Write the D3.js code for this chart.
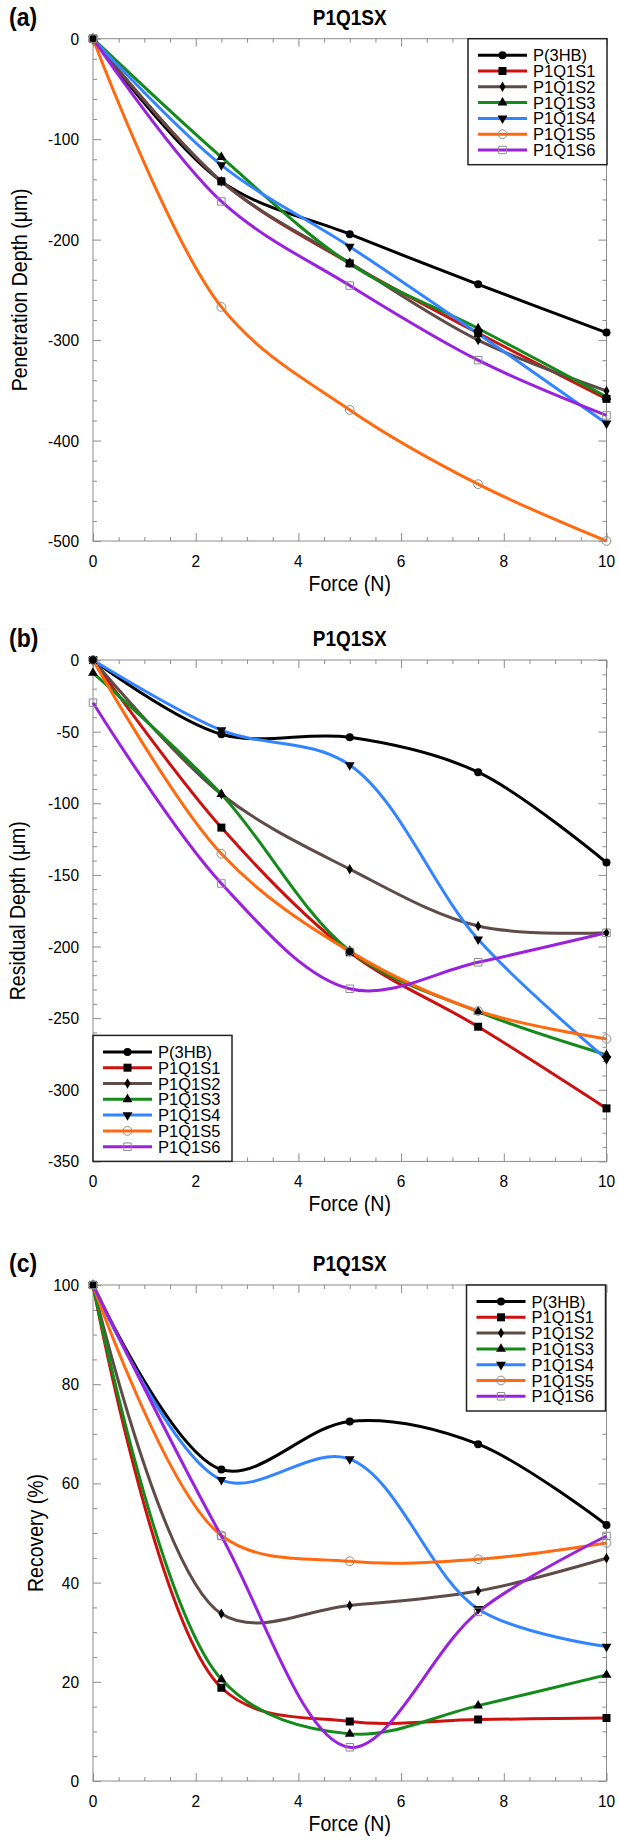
<!DOCTYPE html>
<html>
<head>
<meta charset="utf-8">
<script src="https://cdn.jsdelivr.net/npm/d3@7"></script>
<style>
  body { margin: 0; background: #fff; }
  text { font-family: "Liberation Sans", Arial, Helvetica, sans-serif; }
  .frame { fill: none; stroke: #8c8c8c; stroke-width: 1; }
  .tick line { stroke: #8c8c8c; }
  .domain { display: none; }
</style>
</head>
<body>
<div id="chart"></div>
<script>
// data
var forces = [0, 2.5, 5, 7.5, 10];
var seriesNames = ["P(3HB)", "P1Q1S1", "P1Q1S2", "P1Q1S3", "P1Q1S4", "P1Q1S5", "P1Q1S6"];
var seriesColors = ["#000000", "#cc1111", "#5f4b47", "#138a1a", "#3385ff", "#ff6a10", "#9a22dd"];
var seriesMarkers = ["circle", "square", "diamond", "triangle", "triangleDown", "openCircle", "openSquare"];

var penetrationDepth = [
  [0, -142, -194.6, -244.5, -292.5],
  [0, -142, -223.7, -293, -358.5],
  [0, -142, -223, -300, -350.6],
  [0, -118, -224, -288.5, -356.5],
  [0, -125.8, -207, -293.6, -383],
  [0, -267, -369.5, -443.4, -500],
  [0, -162, -245.7, -320, -375]
];
var residualDepth = [
  [0, -51.8, -54, -78.3, -141.4],
  [0, -117, -204, -256, -313],
  [0, -93.7, -146, -185.7, -190.4],
  [-9, -93.7, -203, -245.5, -275.6],
  [0, -49, -73.3, -195, -278.6],
  [0, -135.3, -203.4, -245, -264.5],
  [-29.8, -156, -229.5, -211, -190.4]
];
var recovery = [
  [100, 62.8, 72.5, 67.9, 51.6],
  [100, 18.8, 12, 12.4, 12.7],
  [100, 33.7, 35.4, 38.3, 44.9],
  [100, 20.5, 9.5, 15.2, 21.4],
  [100, 60.7, 64.9, 34.7, 27.1],
  [100, 49.5, 44.3, 44.7, 48],
  [100, 49.4, 6.8, 34.1, 49.4]
];

var xTicks = [0, 2, 4, 6, 8, 10];
var penetrationTicks = [-500, -400, -300, -200, -100, 0];
var residualTicks = [-350, -300, -250, -200, -150, -100, -50, 0];
var recoveryTicks = [0, 20, 40, 60, 80, 100];

var svg = d3.select("#chart").append("svg")
    .attr("width", 619)
    .attr("height", 1847);

var left = 93, right = 606.5;

// text in the original is a little taller than it is wide
function addText(g, x, y, txt, size, anchor, extra, stretch) {
  return g.append("text")
      .attr("transform", "translate(" + x + "," + y + ")" + (extra || "") +
            "scale(1," + (stretch || 1.12) + ")")
      .attr("text-anchor", anchor || "start")
      .attr("font-size", size)
      .text(txt);
}

function drawPanel(p) {
  var x = d3.scaleLinear().domain([0, 10]).range([left, right]);
  var y = d3.scaleLinear().domain(p.domain).range([p.bottom, p.top]);
  var g = svg.append("g");

  // frame
  g.append("rect").attr("class", "frame")
      .attr("x", left).attr("y", p.top)
      .attr("width", right - left).attr("height", p.bottom - p.top);

  // ticks on all four sides, pointing inward
  var xMinor = d3.range(0, 10.01, 0.5).filter(function(v) { return v % 2 !== 0; });
  var yMinor = d3.range(p.domain[0], p.domain[1] + 0.01, p.minor)
      .filter(function(v) { return p.ticks.indexOf(v) < 0; });

  [[d3.axisBottom, p.bottom], [d3.axisTop, p.top]].forEach(function(a) {
    g.append("g").attr("transform", "translate(0," + a[1] + ")")
        .call(a[0](x).tickValues(xTicks).tickSize(-8).tickFormat(""));
    g.append("g").attr("transform", "translate(0," + a[1] + ")")
        .call(a[0](x).tickValues(xMinor).tickSize(-4).tickFormat(""));
  });
  [[d3.axisLeft, left], [d3.axisRight, right]].forEach(function(a) {
    g.append("g").attr("transform", "translate(" + a[1] + ",0)")
        .call(a[0](y).tickValues(p.ticks).tickSize(-8).tickFormat(""));
    g.append("g").attr("transform", "translate(" + a[1] + ",0)")
        .call(a[0](y).tickValues(yMinor).tickSize(-4).tickFormat(""));
  });

  // tick labels
  xTicks.forEach(function(d) {
    addText(g, x(d), p.bottom + 26, d, 15.5, "middle");
  });
  p.ticks.forEach(function(d) {
    addText(g, left - 14, y(d) + 6, d, 15.5, "end");
  });

  // axis titles
  addText(g, (left + right) / 2, p.bottom + 50, "Force (N)", 19.5, "middle");
  addText(g, p.ylabelX + 7, (p.top + p.bottom) / 2, p.ylabel, 19.5, "middle", "rotate(-90)");

  // title and panel letter
  addText(g, (left + right) / 2, p.top - 14, "P1Q1SX", 19, "middle").attr("font-weight", "bold");
  addText(g, 9, p.top - 13, p.letter, 23, "start").attr("font-weight", "bold");

  // lines
  var line = d3.line()
      .x(function(d, i) { return x(forces[i]); })
      .y(function(d) { return y(d); })
      .curve(d3.curveCatmullRom.alpha(0.5));

  p.values.forEach(function(vals, s) {
    g.append("path")
        .datum(vals)
        .attr("fill", "none")
        .attr("stroke", seriesColors[s])
        .attr("stroke-width", 3)
        .attr("d", line);
  });

  // markers
  p.values.forEach(function(vals, s) {
    vals.forEach(function(v, i) {
      addMarker(g, seriesMarkers[s], x(forces[i]), y(v));
    });
  });

  // legend
  var lg = g.append("g").attr("transform", "translate(" + p.legendX + "," + p.legendY + ")");
  lg.append("rect")
      .attr("width", 139).attr("height", 126)
      .attr("fill", "#fff")
      .attr("stroke", "#222")
      .attr("stroke-width", 1.5);
  seriesNames.forEach(function(name, s) {
    var ry = 16.5 + s * 15.8;
    lg.append("line")
        .attr("x1", 10).attr("x2", 59)
        .attr("y1", ry).attr("y2", ry)
        .attr("stroke", seriesColors[s])
        .attr("stroke-width", 3);
    addMarker(lg, seriesMarkers[s], 34.5, ry);
    addText(lg, 65, ry + 6, name, 16.5, "start", "", 1);
  });
}

function addMarker(g, type, cx, cy) {
  var sym, fill = "#000", stroke = "none", rot = 0;
  if (type === "circle") sym = d3.symbol(d3.symbolCircle, 50);
  if (type === "square") sym = d3.symbol(d3.symbolSquare, 64);
  if (type === "diamond") sym = d3.symbol(d3.symbolDiamond, 32);
  if (type === "triangle") sym = d3.symbol(d3.symbolTriangle, 42);
  if (type === "triangleDown") { sym = d3.symbol(d3.symbolTriangle, 42); rot = 180; }
  if (type === "openCircle") { sym = d3.symbol(d3.symbolCircle, 60); fill = "none"; stroke = "#8c8c8c"; }
  if (type === "openSquare") { sym = d3.symbol(d3.symbolSquare, 56); fill = "none"; stroke = "#8c8c8c"; }
  g.append("path")
      .attr("d", sym)
      .attr("transform", "translate(" + cx + "," + cy + ")rotate(" + rot + ")")
      .attr("fill", fill)
      .attr("stroke", stroke)
      .attr("stroke-width", 1);
}

drawPanel({
  letter: "(a)", top: 38.7, bottom: 541, domain: [-500, 0],
  ticks: penetrationTicks, minor: 20, values: penetrationDepth,
  ylabel: "Penetration Depth (\u03bcm)", ylabelX: 20,
  legendX: 468, legendY: 38.7
});
drawPanel({
  letter: "(b)", top: 660, bottom: 1161.4, domain: [-350, 0],
  ticks: residualTicks, minor: 10, values: residualDepth,
  ylabel: "Residual Depth (\u03bcm)", ylabelX: 18,
  legendX: 93, legendY: 1035.4
});
drawPanel({
  letter: "(c)", top: 1285, bottom: 1781, domain: [0, 100],
  ticks: recoveryTicks, minor: 5, values: recovery,
  ylabel: "Recovery (%)", ylabelX: 35.5,
  legendX: 466.5, legendY: 1285
});
</script>
</body>
</html>
